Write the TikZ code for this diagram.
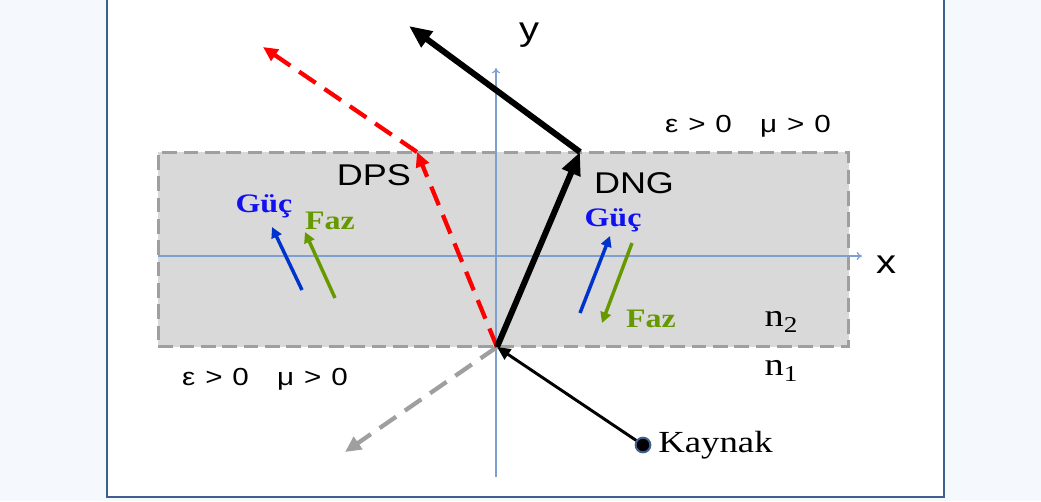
\documentclass[tikz,border=0pt]{standalone}
\usepackage{fontspec}
\setmainfont{Liberation Serif}[FakeStretch=1.2]
\setsansfont{Liberation Sans}[FakeStretch=1.2]
\usepackage{xcolor}
\usetikzlibrary{arrows.meta,positioning}
\definecolor{pagebg}{HTML}{F5F9FD}
\definecolor{framecol}{HTML}{3F5F8F}
\definecolor{axisblue}{HTML}{7DA0D0}
\definecolor{layergray}{HTML}{D9D9D9}
\definecolor{gucblue}{HTML}{0033CC}
\definecolor{guctext}{HTML}{1010F0}
\definecolor{fazgreen}{HTML}{669900}
\newcommand{\medium}{ε\hspace{0.4em}>\hspace{0.4em}0\hspace{1.15em}μ\hspace{0.4em}>\hspace{0.4em}0}

\begin{document}
\begin{tikzpicture}[x=0.75pt, y=-0.75pt,
    layerbox/.style={draw=gray!75, fill=layergray, line width=2.2pt, dash pattern=on 11pt off 5pt, inner sep=0pt, outer sep=0pt, minimum width=518pt, minimum height=146pt},
    axis/.style={axisblue, line width=0.9pt, -{To[length=4pt,width=6pt]}},
    ray/.style={line width=4.5pt, -{Triangle[length=17pt,width=14pt]}},
    redray/.style={red, line width=3.2pt, dash pattern=on 15pt off 8pt, -{Triangle[length=11pt,width=10pt]}},
    smallarrow/.style={line width=2.6pt, -{Triangle[length=8pt,width=8pt]}},
    sanstext/.style={font=\sffamily\fontsize{22.5}{24}\selectfont, inner sep=0pt},
    serifbold/.style={font=\bfseries\fontsize{20}{22}\selectfont, inner sep=0pt}]

    % page and frame
    \fill [pagebg] (0,0) rectangle (1041,501);
    \useasboundingbox (0,0) rectangle (1041,501);
    \fill [white] (107,0) rectangle (944,497);
    \draw [framecol, line width=1.2pt] (107,0) -- (107,497) -- (944,497) -- (944,0);

    % the DNG layer
    \node [layerbox] (layer) at (503.5,249.5) {};

    % axes
    \coordinate (xl) at (158,256);
    \coordinate (xr) at (862,256);
    \coordinate (yb) at (496,477);
    \coordinate (yt) at (496,68);
    \draw [axis] (xl) -- (xr);
    \draw [axis] (yb) -- (yt);
    \node [sanstext, font=\sffamily\fontsize{25}{28}\selectfont] (xlab) at (886,265) {x};
    \node [sanstext, font=\sffamily\fontsize{25}{28}\selectfont] (ylab) at (529,35) {y};

    % rays
    \coordinate (O) at (497,347);
    \coordinate (dngtop) at (580,152);
    \coordinate (dngend) at (409,26);
    \coordinate (dpstop) at (417,152);
    \coordinate (dpsend) at (263,47);
    \coordinate (refl) at (345,452);
    \node [circle, fill=black, draw=framecol, line width=1.5pt, minimum size=11pt, inner sep=0pt] (src) at (643,445) {};

    \draw [line width=2.2pt, -{Triangle[length=10pt,width=9pt]}] (src) -- (O);
    \draw [gray!75, line width=3.2pt, dash pattern=on 15pt off 8pt, -{Triangle[length=12pt,width=11pt]}] (O) -- (refl);
    \draw [redray] (O) -- (dpstop);
    \draw [redray] (dpstop) -- (dpsend);
    \draw [ray] (O) -- (dngtop);
    \draw [ray] (dngtop) -- (dngend);

    % power and phase
    \coordinate (g1a) at (302,290);
    \coordinate (g1b) at (272,227);
    \coordinate (f1a) at (335,298);
    \coordinate (f1b) at (305,232);
    \coordinate (g2a) at (580,313);
    \coordinate (g2b) at (610,236);
    \coordinate (f2a) at (632,243);
    \coordinate (f2b) at (602,323);
    \draw [smallarrow, gucblue] (g1a) -- (g1b);
    \draw [smallarrow, fazgreen] (f1a) -- (f1b);
    \draw [smallarrow, gucblue] (g2a) -- (g2b);
    \draw [smallarrow, fazgreen] (f2a) -- (f2b);

    \node [serifbold, guctext] (guc1) at (264,206) {Güç};
    \node [serifbold, fazgreen] (faz1) at (330,221) {Faz};
    \node [serifbold, guctext] (guc2) at (613,220) {Güç};
    \node [serifbold, fazgreen] (faz2) at (651,319) {Faz};

    % labels
    \node [sanstext] (dps) at (374,175) {DPS};
    \node [sanstext] (dng) at (634,183) {DNG};
    \node [sanstext, font=\sffamily\fontsize{18.5}{22}\selectfont] (top) at (748,126) {\medium};
    \node [sanstext, font=\sffamily\fontsize{18.5}{22}\selectfont] (bottom) at (265,379) {\medium};
    \node [font=\fontsize{24}{26}\selectfont, inner sep=0pt] (n2) at (781,322) {n\raisebox{-4.5pt}{\fontsize{17}{17}\selectfont 2}};
    \node [font=\fontsize{24}{26}\selectfont, inner sep=0pt] (n1) at (781,371) {n\raisebox{-4.5pt}{\fontsize{17}{17}\selectfont 1}};
    \node [font=\fontsize{23}{24}\selectfont, inner sep=0pt, right=5pt of src] (kaynak) {Kaynak};
\end{tikzpicture}
\end{document}
